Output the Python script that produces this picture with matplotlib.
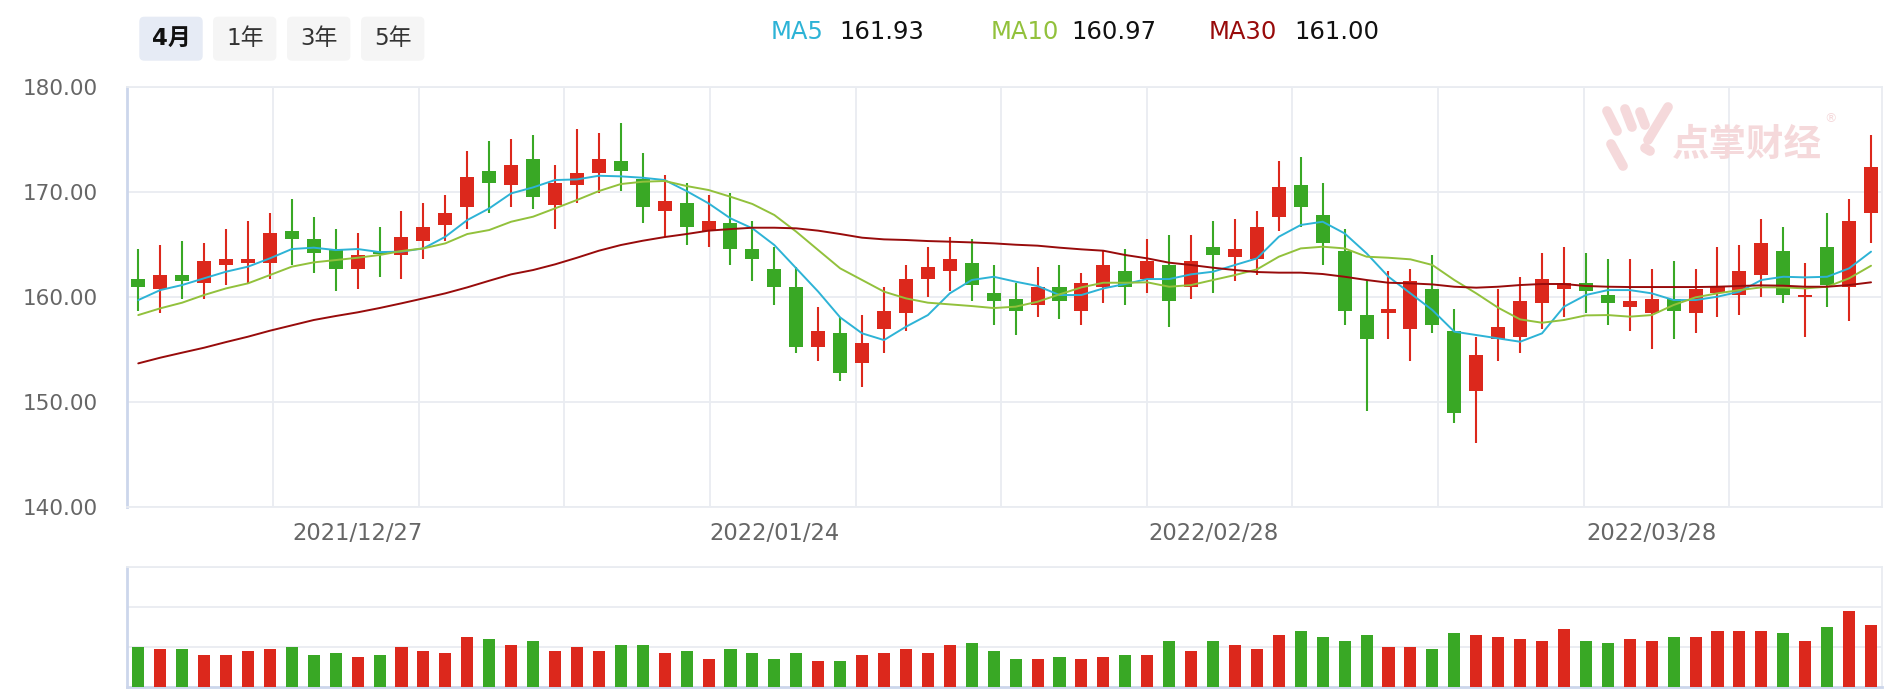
import numpy as np
import matplotlib.pyplot as plt
from matplotlib.patches import FancyBboxPatch

plt.rcParams['font.family'] = ['DejaVu Sans', 'Noto Sans CJK SC']

# 日K数据
opens = [161.68, 160.73, 162.06, 161.30, 163.02, 163.21, 163.21, 166.25, 165.49, 164.44,
         162.63, 164.25, 163.97, 165.30, 166.83, 168.54, 171.97, 170.63, 173.11, 168.73,
         170.63, 171.78, 172.92, 171.21, 168.16, 168.92, 166.25, 167.02, 164.54, 162.63,
         160.92, 155.21, 156.54, 153.68, 156.92, 158.44, 161.68, 162.44, 163.21, 160.35,
         159.78, 159.21, 160.92, 158.63, 160.92, 162.44, 161.68, 163.02, 160.92, 164.73,
         163.78, 163.59, 167.59, 170.63, 167.78, 164.35, 158.25, 158.44, 156.92, 160.73,
         156.73, 151.02, 155.97, 156.16, 159.40, 160.73, 161.30, 160.16, 159.02, 158.44,
         159.78, 158.44, 160.35, 160.16, 162.06, 164.35, 159.97, 164.73, 160.92, 167.97]
highs = [164.54, 164.92, 165.30, 165.11, 166.44, 167.21, 167.97, 169.30, 167.59, 166.44,
         166.06, 166.63, 168.16, 168.92, 169.68, 173.87, 174.83, 175.02, 175.40, 172.54,
         175.97, 175.59, 176.54, 173.68, 171.59, 170.83, 169.68, 169.87, 167.21, 164.73,
         162.83, 159.02, 158.06, 158.25, 160.92, 163.02, 164.73, 165.68, 165.49, 163.02,
         161.30, 162.83, 163.02, 162.25, 164.35, 164.54, 165.49, 165.87, 165.87, 167.21,
         167.40, 168.16, 172.92, 173.30, 170.83, 166.44, 161.49, 162.44, 162.63, 163.97,
         158.83, 156.16, 160.73, 161.87, 164.16, 164.73, 164.16, 163.59, 163.59, 162.63,
         163.40, 162.63, 164.73, 164.92, 167.40, 166.63, 163.21, 167.97, 169.30, 175.40]
lows = [158.67, 158.48, 159.78, 159.78, 161.11, 161.21, 161.68, 163.02, 162.25, 160.54,
        160.73, 161.87, 161.68, 163.59, 165.30, 166.44, 167.97, 168.54, 168.35, 166.44,
        168.92, 169.87, 170.06, 167.02, 165.68, 164.92, 164.73, 163.02, 161.49, 159.21,
        154.63, 153.87, 151.97, 151.40, 154.63, 156.73, 159.97, 160.54, 159.59, 157.30,
        156.35, 158.06, 157.87, 157.30, 159.40, 159.21, 160.35, 157.11, 159.78, 160.35,
        161.49, 162.06, 166.25, 166.63, 163.02, 157.30, 149.11, 155.97, 153.87, 156.54,
        147.97, 146.06, 153.87, 154.63, 156.92, 158.06, 158.44, 157.30, 156.73, 155.02,
        155.97, 156.54, 158.06, 158.25, 159.97, 159.40, 156.16, 159.02, 157.68, 165.11]
closes = [160.92, 162.06, 161.49, 163.40, 163.59, 163.59, 166.06, 165.49, 164.16, 162.63,
          163.97, 164.03, 165.68, 166.63, 167.97, 171.40, 170.83, 172.54, 169.49, 170.83,
          171.78, 173.11, 171.97, 168.54, 169.11, 166.63, 167.21, 164.54, 163.59, 160.92,
          155.21, 156.73, 152.73, 155.59, 158.63, 161.68, 162.83, 163.59, 161.11, 159.59,
          158.63, 160.92, 159.59, 161.30, 163.02, 160.92, 163.40, 159.59, 163.40, 163.97,
          164.54, 166.63, 170.44, 168.54, 165.11, 158.63, 155.97, 158.83, 161.49, 157.30,
          148.92, 154.44, 157.11, 159.59, 161.68, 161.30, 160.54, 159.40, 159.59, 159.78,
          158.63, 160.73, 160.92, 162.44, 165.11, 160.16, 160.16, 161.11, 167.21, 172.35]
volumes = [119, 113, 113, 95, 95, 107, 113, 119, 95, 101,
           89, 95, 119, 107, 101, 149, 143, 125, 137, 107,
           119, 107, 125, 125, 101, 107, 83, 113, 101, 83,
           101, 77, 77, 95, 101, 113, 101, 125, 131, 107,
           83, 83, 89, 83, 89, 95, 95, 137, 107, 137,
           125, 113, 155, 167, 149, 137, 155, 119, 119, 113,
           161, 155, 149, 143, 137, 173, 137, 131, 143, 137,
           149, 149, 167, 167, 167, 161, 137, 179, 227, 185]

# 均线
ma5 = [159.68, 160.63, 161.11, 161.75, 162.38, 162.86, 163.65, 164.54, 164.67, 164.44,
       164.54, 164.25, 164.29, 164.60, 165.71, 167.30, 168.41, 169.84, 170.41, 171.11,
       171.17, 171.52, 171.46, 171.33, 171.11, 170.06, 168.89, 167.46, 166.51, 164.92,
       162.70, 160.48, 158.03, 156.51, 155.87, 157.14, 158.25, 160.32, 161.59, 161.90,
       161.43, 161.02, 160.16, 160.16, 160.79, 161.21, 161.68, 161.68, 162.13, 162.38,
       163.02, 163.65, 165.71, 166.83, 167.14, 166.03, 164.13, 161.90, 160.32, 158.73,
       156.67, 156.35, 156.03, 155.71, 156.51, 159.05, 160.16, 160.63, 160.63, 160.32,
       159.68, 159.68, 160.00, 160.48, 161.59, 161.90, 161.84, 161.90, 162.70, 164.29]
ma10 = [158.25, 158.89, 159.43, 160.16, 160.79, 161.27, 162.06, 162.86, 163.27, 163.49,
        163.71, 163.97, 164.35, 164.60, 165.08, 165.97, 166.35, 167.14, 167.62, 168.41,
        169.21, 170.06, 170.73, 170.95, 171.02, 170.54, 170.16, 169.52, 168.83, 167.78,
        166.19, 164.44, 162.70, 161.59, 160.48, 159.84, 159.43, 159.27, 159.11, 158.92,
        159.05, 159.52, 160.22, 160.89, 161.33, 161.33, 161.37, 160.95, 161.11, 161.59,
        162.06, 162.60, 163.81, 164.60, 164.76, 164.60, 163.81, 163.71, 163.56, 163.02,
        161.59, 160.32, 158.95, 157.84, 157.52, 157.78, 158.22, 158.25, 158.10, 158.25,
        159.21, 159.94, 160.32, 160.63, 160.89, 160.89, 160.79, 160.95, 161.75, 162.95]
ma30 = [153.65, 154.19, 154.67, 155.14, 155.68, 156.19, 156.76, 157.27, 157.78, 158.16,
        158.51, 158.92, 159.37, 159.84, 160.32, 160.89, 161.52, 162.13, 162.54, 163.08,
        163.71, 164.38, 164.92, 165.33, 165.68, 165.97, 166.29, 166.44, 166.57, 166.57,
        166.51, 166.29, 165.97, 165.62, 165.46, 165.40, 165.30, 165.24, 165.17, 165.08,
        164.95, 164.86, 164.67, 164.51, 164.38, 163.97, 163.65, 163.24, 163.02, 162.76,
        162.54, 162.35, 162.29, 162.29, 162.16, 161.90, 161.59, 161.33, 161.27, 161.17,
        160.95, 160.86, 160.95, 161.11, 161.21, 161.21, 161.02, 160.95, 160.92, 160.92,
        160.92, 160.92, 160.95, 161.02, 161.08, 161.05, 160.95, 160.95, 161.11, 161.37]

tick_pos = [10, 29, 49, 69]
tick_labels = ['2021/12/27', '2022/01/24', '2022/02/28', '2022/03/28']
y_ticks = [140, 150, 160, 170, 180]

legend_names = ['MA5', 'MA10', 'MA30']
legend_values = ['161.93', '160.97', '161.00']
buttons = ['4月', '1年', '3年', '5年']

RED = '#dc281c'
GREEN = '#39a825'
MA_COLORS = ['#2db3d6', '#92c13c', '#980b0b']
GRID = '#e9ecf1'
AXIS = '#ccd6eb'
WM = '#f5d9db'

W, H = 1900, 694
fig = plt.figure(figsize=(W / 100, H / 100), dpi=100)
left, right = 127.3, 1882
ax = fig.add_axes([left / W, 1 - 506.7 / H, (right - left) / W, 420 / H])
axv = fig.add_axes([left / W, 1 - 686.7 / H, (right - left) / W, 120 / H])

x = np.arange(len(closes))
o = np.array(opens)
c = np.array(closes)
col = np.where(c >= o, RED, GREEN)

# K线
ax.vlines(x, lows, highs, colors=col, lw=1.5, zorder=3)
ax.bar(x, np.maximum(np.abs(c - o), 0.12), bottom=np.minimum(o, c), width=0.64,
       color=col, zorder=4)
for ma, mc in zip([ma5, ma10, ma30], MA_COLORS):
    ax.plot(x, ma, color=mc, lw=1.4, zorder=5, solid_capstyle='round')

ax.set_xlim(-0.5, len(closes) - 0.5)
ax.set_ylim(140, 180)
ax.set_yticks(y_ticks)
ax.set_yticklabels([f'{v:.2f}' for v in y_ticks])
ax.set_xticks(tick_pos)
ax.set_xticklabels(tick_labels)
ax.set_xticks(-0.5 + 6.64 * np.arange(1, 12), minor=True)
ax.tick_params(axis='y', length=0, pad=21, labelsize=15.5, labelcolor='#666666')
ax.tick_params(axis='x', which='both', length=0, pad=11, labelsize=16.3, labelcolor='#666666')
ax.set_axisbelow(True)
ax.grid(axis='y', color=GRID, lw=1.3)
ax.grid(axis='x', which='minor', color=GRID, lw=1.3)
for s in ['top', 'right', 'bottom']:
    ax.spines[s].set_color(GRID)
    ax.spines[s].set_linewidth(1.3)
ax.spines['left'].set_color(AXIS)
ax.spines['left'].set_linewidth(2)

# 成交量
axv.bar(x, volumes, width=0.55, color=col, zorder=3)
axv.set_xlim(-0.5, len(closes) - 0.5)
axv.set_ylim(0, 360)
axv.set_yticks([120, 240, 360])
axv.set_xticks([])
axv.tick_params(which='both', length=0, labelleft=False, labelbottom=False)
axv.set_axisbelow(True)
axv.grid(axis='y', color=GRID, lw=1.3)
for s in ['top', 'right']:
    axv.spines[s].set_color(GRID)
    axv.spines[s].set_linewidth(1.3)
for s in ['left', 'bottom']:
    axv.spines[s].set_color(AXIS)
    axv.spines[s].set_linewidth(2)

# 均线图例
name_x = [771, 991, 1209]
val_x = [839, 1071, 1294]
for nm, val, mc, nx, vx in zip(legend_names, legend_values, MA_COLORS, name_x, val_x):
    fig.text(nx / W, 1 - 31.7 / H, nm, color=mc, fontsize=17.5, va='center', ha='left')
    fig.text(vx / W, 1 - 31.7 / H, val, color='#111111', fontsize=17.5, va='center', ha='left')

# 周期按钮
btn_x = [139.3, 213, 287, 361]
for i, (b, bx) in enumerate(zip(buttons, btn_x)):
    active = i == 0
    fig.add_artist(FancyBboxPatch((bx / 100, (H - 60.7) / 100), 0.634, 0.44,
                                  boxstyle='round,pad=0,rounding_size=0.05',
                                  transform=fig.dpi_scale_trans,
                                  fc='#e6ebf5' if active else '#f5f5f5', ec='none'))
    fig.text((bx + 31.7) / W, 1 - 38.7 / H, b, ha='center', va='center', fontsize=16.5,
             color='#111111' if active else '#333333',
             fontweight='bold' if active else 'normal')

# 水印
ax.text(1672 / W, 1 - 144 / H, '点掌财经', transform=fig.transFigure, color=WM,
        fontsize=27, fontweight='bold', family=['Noto Sans CJK SC'], va='center',
        ha='left', zorder=1)
ax.text(1824 / W, 1 - 119 / H, '®', transform=fig.transFigure, color=WM,
        fontsize=9, va='center', ha='left', zorder=1)
strokes = [((1607, 111), (1617, 131)), ((1625, 109), (1632, 127)),
           ((1640, 112), (1645, 125)), ((1668, 107), (1648, 140)),
           ((1611, 144), (1623, 166)), ((1645, 148), (1650, 151))]
for (x0, y0), (x1, y1) in strokes:
    ax.plot([x0 / 100, x1 / 100], [(H - y0) / 100, (H - y1) / 100],
            transform=fig.dpi_scale_trans, color=WM, lw=7,
            solid_capstyle='round', zorder=1, clip_on=False)

fig.savefig('out.png', dpi=100)
